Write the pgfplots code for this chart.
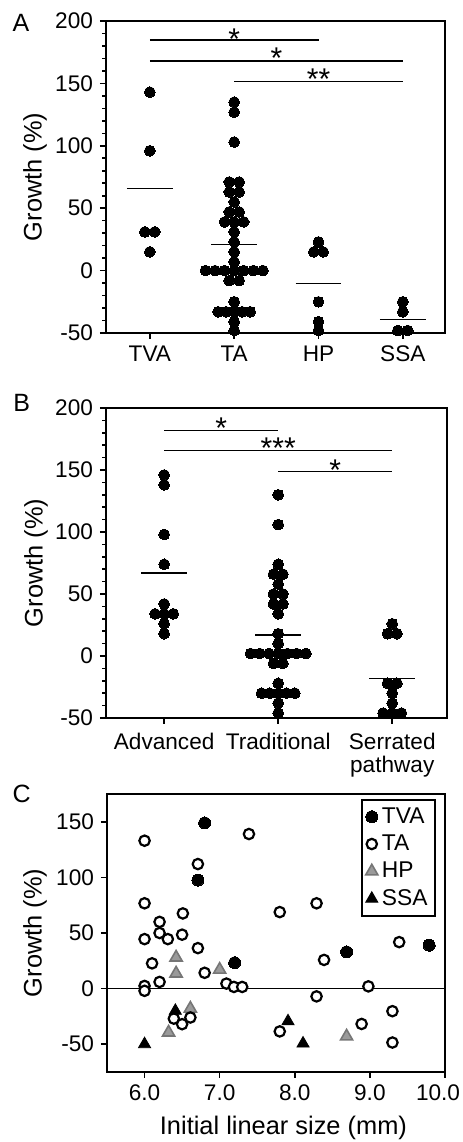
\documentclass[border=0pt]{standalone}
\usepackage{fontspec}
\setmainfont{Liberation Sans}
\usepackage{pgfplots}
\pgfplotsset{compat=1.18}
\definecolor{hpfill}{HTML}{9A9A9A}
\definecolor{hpdraw}{HTML}{767676}
\tikzset{sigstar/.style={font=\fontsize{15}{15}\selectfont, anchor=base, inner sep=0pt}}
\pgfplotsset{
  common/.style={
    scale only axis,
    anchor=south west,
    clip=false,
    axis line style={line width=0.9pt},
    tick align=outside,
    tick style={line width=0.8pt, black},
    major tick length=3pt,
    minor tick length=1.8pt,
    xtick pos=left,
    ytick pos=left,
    ticklabel style={font=\fontsize{11.3}{11.6}\selectfont},
    label style={font=\fontsize{12.7}{15}\selectfont},
    /pgf/number format/assume math mode=true,
    ylabel={Growth (\%)},
  },
  dots/.style={only marks, mark=*, mark size=2.7pt, mark options={fill=black, draw=black, line width=0pt}},
  mline/.style={black, line width=0.65pt, no marks},
}
\begin{document}
\begin{tikzpicture}
\useasboundingbox (0,0) rectangle (231pt,571pt);
\node[font=\fontsize{12.5}{14}\selectfont] at (10.5pt,559.5pt) {A};
\node[font=\fontsize{12.5}{14}\selectfont] at (10.8pt,369.3pt) {B};
\node[font=\fontsize{12.5}{14}\selectfont] at (10.8pt,174.3pt) {C};
% ---------------- Panel A
\begin{axis}[common,
  at={(53pt,404.5pt)}, width=169.5pt, height=156pt,
  xmin=-0.52, xmax=3.5, ymin=-50, ymax=200,
  xtick={0,1,2,3}, xticklabels={TVA,TA,HP,SSA},
  ytick={-50,0,50,100,150,200}, minor y tick num=4,
  ylabel style={at={(axis description cs:-0.209,0.5)}, anchor=center},
]
\addplot[dots] coordinates {(0,143) (0,96) (-0.059,31) (0.059,31) (0,15)};
\addplot[dots] coordinates {
 (1,135) (1,127) (1,103)
 (0.941,71) (1.059,71) (0.941,63) (1.059,63) (1,55)
 (0.941,47) (1.059,47) (0.886,39) (1,39) (1.114,39)
 (1,31) (1,23) (1,15) (1,7)
 (0.659,0) (0.773,0) (0.886,0) (1,0) (1.114,0) (1.227,0) (1.341,0)
 (0.941,-8) (1.059,-8) (1,-25)
 (0.81,-33) (0.905,-33) (1,-33) (1.095,-33) (1.19,-33)
 (1,-41) (1,-48)};
\addplot[dots] coordinates {(2,23) (1.945,15) (2.055,15) (2,-25) (2,-41) (2,-48)};
\addplot[dots] coordinates {(3,-25) (3,-33) (2.941,-48) (3.059,-48)};
\addplot[mline] coordinates {(-0.272,65.6) (0.272,65.6)};
\addplot[mline] coordinates {(0.728,21) (1.272,21)};
\addplot[mline] coordinates {(1.728,-10.4) (2.272,-10.4)};
\addplot[mline] coordinates {(2.728,-39) (3.272,-39)};
\addplot[black, line width=0.65pt, no marks] coordinates {(0,184.8) (2,184.8)};
\addplot[black, line width=1pt, no marks] coordinates {(0,168) (3,168)};
\addplot[black, line width=0.65pt, no marks] coordinates {(1,151.5) (3,151.5)};
\node[sigstar] at (axis cs:1,177.2) {*};
\node[sigstar] at (axis cs:1.5,161.6) {*};
\node[sigstar] at (axis cs:2,145) {**};
\end{axis}
% ---------------- Panel B
\begin{axis}[common,
  at={(53pt,212pt)}, width=170.5pt, height=155pt,
  xmin=-0.51, xmax=2.48, ymin=-50, ymax=200,
  xtick={0,1,2}, xticklabels={Advanced,Traditional,{Serrated\\pathway}},
  xticklabel style={align=center, yshift=-1pt},
  ytick={-50,0,50,100,150,200}, minor y tick num=4,
  ylabel style={at={(axis description cs:-0.205,0.5)}, anchor=center},
]
\addplot[dots] coordinates {(0,146) (0,138) (0,98) (0,74) (0,42)
 (-0.08,34) (0,34) (0.08,34) (0,26) (0,18)};
\addplot[dots] coordinates {
 (1,130) (1,106) (1,74) (0.959,66) (1.041,66) (1,58)
 (0.959,50) (1.041,50) (0.959,42) (1.041,42) (1,34)
 (1,18) (1,10)
 (0.757,2) (0.838,2) (0.919,2) (1,2) (1.081,2) (1.162,2) (1.243,2)
 (0.959,-6) (1.041,-6) (1,-22)
 (0.854,-30) (0.927,-30) (1,-30) (1.073,-30) (1.146,-30)
 (1,-38) (1,-46)};
\addplot[dots] coordinates {(2,26) (1.959,18) (2.041,18) (1.959,-22) (2.041,-22)
 (2,-30) (2,-38) (1.92,-46) (2,-46) (2.08,-46)};
\addplot[mline] coordinates {(-0.2,67) (0.2,67)};
\addplot[mline] coordinates {(0.8,17) (1.2,17)};
\addplot[mline] coordinates {(1.8,-18) (2.2,-18)};
\addplot[black, line width=0.65pt, no marks] coordinates {(0,182) (1,182)};
\addplot[black, line width=0.65pt, no marks] coordinates {(0,165.5) (2,165.5)};
\addplot[black, line width=0.65pt, no marks] coordinates {(1,148.6) (2,148.6)};
\node[sigstar] at (axis cs:0.5,175.8) {*};
\node[sigstar] at (axis cs:1,158.9) {***};
\node[sigstar] at (axis cs:1.5,141.8) {*};
\end{axis}
% ---------------- Panel C
\begin{axis}[common,
  at={(53.5pt,35pt)}, width=169pt, height=139pt,
  xmin=5.5, xmax=10, ymin=-75, ymax=175,
  xtick={6,7,8,9}, ytick={-50,0,50,100,150},
  xticklabel={\pgfmathprintnumber[fixed,fixed zerofill,precision=1]{\tick}},
  extra x ticks={10},
  extra x tick style={xticklabel style={xshift=-3.5pt}},
  ylabel style={at={(axis description cs:-0.213,0.5)}, anchor=center},
  xlabel={Initial linear size (mm)},
  xlabel style={at={(axis description cs:0.522,-0.2014)}, anchor=center},
  reverse legend,
  legend cell align=left,
  legend style={at={(axis description cs:0.973,0.982)}, anchor=north east,
    draw=black, line width=0.8pt, font=\fontsize{11.4}{12}\selectfont,
    inner sep=1.8pt, row sep=0.3pt},
]
\addplot[black, line width=0.9pt, no marks, forget plot] coordinates {(5.5,0) (10,0)};
\addplot[only marks, mark=triangle*, mark size=3.5pt, mark options={fill=black, draw=black, line width=0.4pt}]
 coordinates {(6.0,-50) (6.41,-20) (7.91,-29.4) (8.11,-49.4)};
\addlegendentry{SSA}
\addplot[only marks, mark=triangle*, mark size=3.5pt, mark options={fill=hpfill, draw=hpdraw, line width=0.8pt}]
 coordinates {(6.42,28) (6.42,13.6) (7.0,17) (6.61,-18) (6.32,-39.5) (8.69,-43)};
\addlegendentry{HP}
\addplot[only marks, mark=*, mark size=2.6pt, mark options={fill=white, draw=black, line width=1.1pt}]
 coordinates {(6.0,133) (7.39,139) (6.71,112) (6.0,76.7) (7.8,68.8) (8.29,76.7)
 (6.2,60) (6.51,67.6) (6.2,50) (6.0,44.5) (6.31,44.5) (6.5,48.5) (6.71,36.4)
 (6.1,22.7) (6.8,14.2) (6.2,6) (6.0,2.4) (6.0,-2) (7.09,4.5) (7.19,1.5) (7.3,1.5)
 (8.39,25.8) (9.39,41.8) (8.98,2) (8.29,-7) (9.3,-20.3) (8.89,-31.8) (9.3,-48.5)
 (7.8,-38.5) (6.39,-27) (6.5,-32) (6.61,-26)};
\addlegendentry{TA}
\addplot[only marks, mark=*, mark size=3pt, mark options={fill=black, draw=black, line width=0pt}]
 coordinates {(6.8,149) (6.71,97.6) (7.2,23.3) (8.69,33) (9.79,39)};
\addlegendentry{TVA}
\end{axis}
\end{tikzpicture}
\end{document}
